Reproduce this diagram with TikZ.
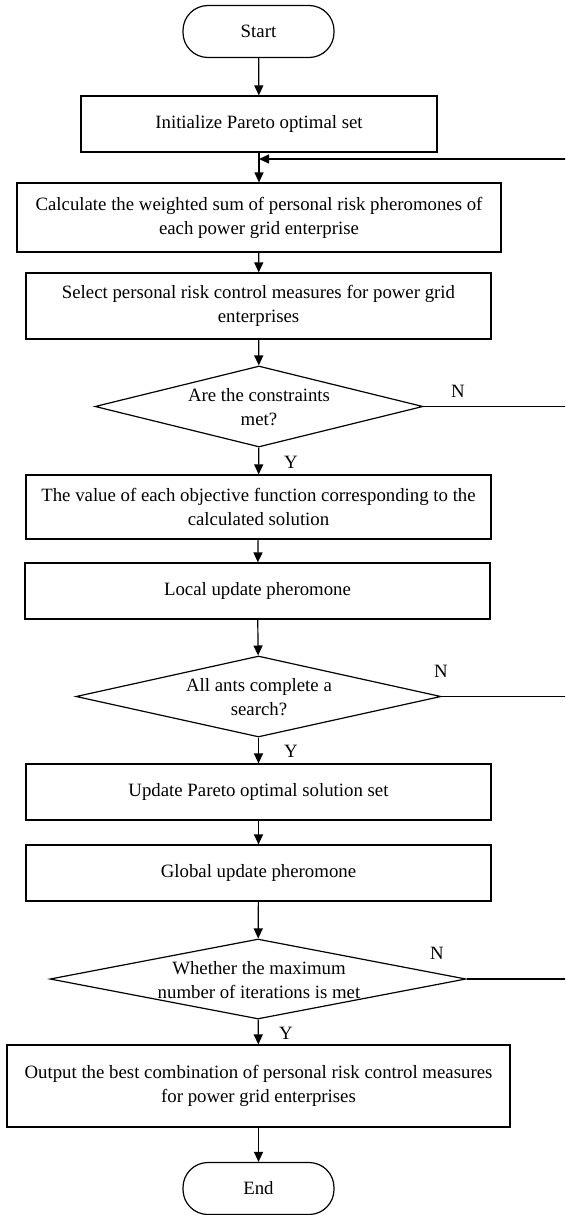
\documentclass[tikz,border=0pt]{standalone}
\usepackage{fontspec}
\setmainfont{Liberation Serif}
\usetikzlibrary{arrows.meta,shapes.geometric}
\begin{document}
\begin{tikzpicture}[x=1pt,y=-1pt,
  every node/.style={font=\fontsize{18.8}{24}\selectfont, inner sep=0pt},
  procbox/.style={draw, line width=1.2pt, rectangle, align=center},
  termbox/.style={draw, line width=1.2pt, rectangle, rounded corners=25pt, minimum width=151pt, minimum height=52pt},
  decbox/.style={draw, line width=1.2pt, diamond},
  flow/.style={line width=1.2pt, -{Triangle[length=10pt,width=9pt]}},
  plain/.style={line width=1.2pt},
  lbl/.style={font=\fontsize{18.8}{24}\selectfont}
]
\useasboundingbox (0,0) rectangle (565,1215);
\clip (0,0) rectangle (565,1215);

\node[termbox] (start) at (258.5,31.5) {Start};
\node[procbox, minimum width=356pt, minimum height=56pt] (init) at (259,124) {Initialize Pareto optimal set};
\node[procbox, minimum width=484pt, minimum height=69pt] (calc) at (259,217.5) {Calculate the weighted sum of personal risk pheromones of\\each power grid enterprise};
\node[procbox, minimum width=465pt, minimum height=66pt] (sel) at (258.5,306) {Select personal risk control measures for power grid\\enterprises};
\node[decbox, minimum width=328pt, minimum height=81pt] (d1) at (259,406.5) {};
\node[align=center] (d1t) at (259,407) {Are the constraints\\met?};
\node[procbox, minimum width=465pt, minimum height=64pt] (obj) at (258.5,507) {The value of each objective function corresponding to the\\calculated solution};
\node[procbox, minimum width=465pt, minimum height=56pt] (loc) at (257.5,591) {Local update pheromone};
\node[decbox, minimum width=365pt, minimum height=81pt] (d2) at (258.5,696.5) {};
\node[align=center] (d2t) at (259,697) {All ants complete a\\search?};
\node[procbox, minimum width=465pt, minimum height=56pt] (upd) at (258.5,792) {Update Pareto optimal solution set};
\node[procbox, minimum width=465pt, minimum height=56pt] (glob) at (258.5,873) {Global update pheromone};
\node[decbox, minimum width=416pt, minimum height=80pt] (d3) at (258,979) {};
\node[align=center] (d3t) at (259,980) {Whether the maximum\\number of iterations is met};
\node[procbox, minimum width=503pt, minimum height=82pt] (out) at (258.5,1086) {Output the best combination of personal risk control measures\\for power grid enterprises};
\node[termbox] (end) at (258.5,1188.5) {End};

% labels
\node[lbl] (n1) at (458,391) {N};
\node[lbl] (n2) at (441,671) {N};
\node[lbl] (n3) at (437,953) {N};
\node[lbl] (y1) at (291,462) {Y};
\node[lbl] (y2) at (291,751) {Y};
\node[lbl] (y3) at (286,1033) {Y};

% main flow
\draw[flow] (start) -- (init);
\draw[flow] (init) -- (calc);
\draw[flow] (calc) -- (sel);
\draw[flow] (sel) -- (d1);
\draw[flow] (d1) -- (obj);
\draw[flow] (obj) -- (loc);
\draw[flow] (loc) -- (d2);
\draw[flow] (d2) -- (upd);
\draw[flow] (upd) -- (glob);
\draw[flow] (glob) -- (d3);
\draw[flow] (d3) -- (out);
\draw[flow] (out) -- (end);

% feedback loop
\coordinate (fb) at (259,159);
\coordinate (rtop) at (567,159);
\draw[plain] (d1.east) -- (d1.east -| rtop);
\draw[plain] (d2.east) -- (d2.east -| rtop);
\draw[plain] (d3.east) -- (d3.east -| rtop);
\draw[plain] (d3.east -| rtop) -- (rtop);
\draw[flow] (rtop) -- (fb);
\end{tikzpicture}
\end{document}
